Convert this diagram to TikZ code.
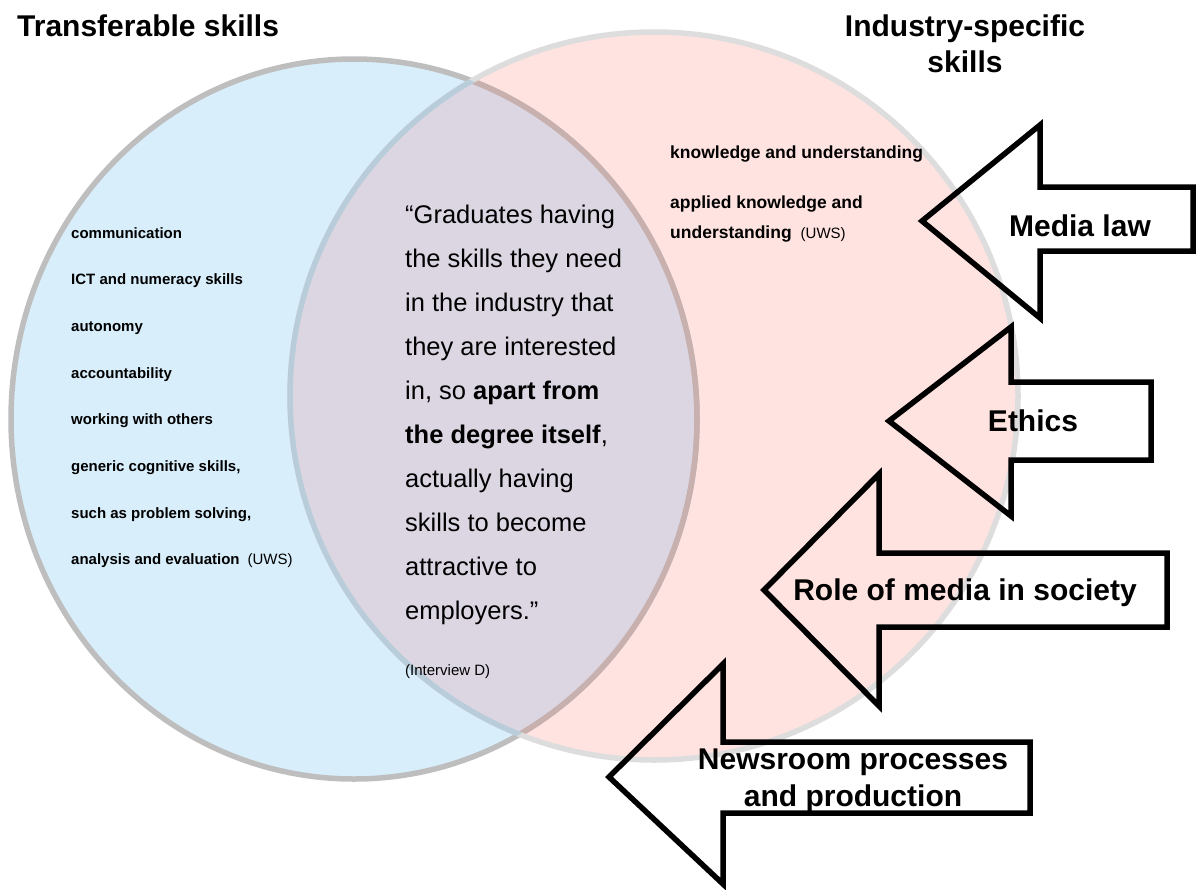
\documentclass[tikz,border=0pt]{standalone}
\usepackage{fontspec}
\setmainfont{Liberation Sans}
\definecolor{tsfill}{HTML}{D8EEFB}
\definecolor{isfill}{HTML}{FFE3E0}
\definecolor{bothfill}{HTML}{DCD6E3}
\definecolor{tsline}{HTML}{BEBEBE}
\definecolor{tslinein}{HTML}{C8B0AF}
\definecolor{isline}{HTML}{DDDDDD}
\definecolor{islinein}{HTML}{B9CCD9}
\begin{document}
\begin{tikzpicture}[x=1pt,y=-1pt,
  heading/.style={font=\fontsize{30}{36}\selectfont\bfseries, inner sep=0pt},
  skill/.style={font=\fontsize{15}{18}\selectfont\bfseries, anchor=base west, inner sep=0pt},
  iskill/.style={font=\fontsize{17.5}{21}\selectfont\bfseries, anchor=base west, inner sep=0pt},
  src/.style={font=\fontsize{15}{18}\selectfont},
  quote/.style={font=\fontsize{25.5}{30}\selectfont, anchor=base west, inner sep=0pt},
  arrowshape/.style={draw=black, line width=5.5pt, line join=miter, miter limit=10},
  arrowlabel/.style={font=\fontsize{30}{37}\selectfont\bfseries, anchor=base, inner sep=0pt, align=center}]
\useasboundingbox (0,0) rectangle (1196,889);

% the two skill sets
\fill[tsfill] (354,419) ellipse [x radius=343, y radius=360];
\fill[isfill] (654,396) circle [radius=364];
\begin{scope}
  \clip (354,419) ellipse [x radius=343, y radius=360];
  \fill[bothfill] (654,396) circle [radius=364];
\end{scope}
% outlines, tinted where they cross the other set
\draw[tsline, line width=5.5pt] (354,419) ellipse [x radius=343, y radius=360];
\begin{scope}
  \clip (654,396) circle [radius=364];
  \draw[tslinein, line width=5.5pt] (354,419) ellipse [x radius=343, y radius=360];
\end{scope}
\draw[isline, line width=5.5pt] (654,396) circle [radius=364];
\begin{scope}
  \clip (354,419) ellipse [x radius=343, y radius=360];
  \draw[islinein, line width=5.5pt] (654,396) circle [radius=364];
\end{scope}

% headings
\node[heading, anchor=base west] (tshead) at (17,36) {Transferable skills};
\node[heading, anchor=base] (ishead1) at (965,36) {Industry-specific};
\node[heading, anchor=base] (ishead2) at (965,72) {skills};

% transferable skills
\node[skill] (t1) at (71,238) {communication};
\node[skill] (t2) at (71,284.7) {ICT and numeracy skills};
\node[skill] (t3) at (71,331.4) {autonomy};
\node[skill] (t4) at (71,378.1) {accountability};
\node[skill] (t5) at (71,424.8) {working with others};
\node[skill] (t6) at (71,471.5) {generic cognitive skills,};
\node[skill] (t7) at (71,518.2) {such as problem solving,};
\node[skill] (t8) at (71,564.9) {analysis and evaluation\hspace{8pt}{\mdseries(UWS)}};

% industry-specific skills
\node[iskill] (i1) at (670,158) {knowledge and understanding};
\node[iskill] (i2) at (670,208) {applied knowledge and};
\node[iskill] (i3) at (670,238.5) {understanding\hspace{9pt}{\mdseries\fontsize{15}{18}\selectfont(UWS)}};

% shared: interview quote
\foreach \txt [count=\i from 0] in {%
  {“Graduates having},
  {the skills they need},
  {in the industry that},
  {they are interested},
  {in, so \textbf{apart from}},
  {\textbf{the degree itself},},
  {actually having},
  {skills to become},
  {attractive to},
  {employers.”}}
  \node[quote] (q\i) at (405,{223+44*\i}) {\txt};
\node[src, anchor=base west, inner sep=0pt] (qsrc) at (405,675) {(Interview D)};

% inputs feeding industry-specific skills
\draw[arrowshape] (922,221) -- (1040,125) -- (1040,187) -- (1193,187) -- (1193,251)
  -- (1040,251) -- (1040,318) -- cycle;
\draw[arrowshape] (889,421) -- (1011,327) -- (1011,382) -- (1151,382) -- (1151,460)
  -- (1011,460) -- (1011,516) -- cycle;
\draw[arrowshape] (764,590) -- (879,474) -- (879,553) -- (1167,553) -- (1167,627)
  -- (879,627) -- (879,706) -- cycle;
\draw[arrowshape] (609,777) -- (723,664) -- (723,742) -- (1030,742) -- (1030,813)
  -- (723,813) -- (723,884) -- cycle;

\node[arrowlabel] (law) at (1080,236) {Media law};
\node[arrowlabel] (ethics) at (1033,431) {Ethics};
\node[arrowlabel] (role) at (965,600) {Role of media in society};
\node[arrowlabel] (news1) at (853,769) {Newsroom processes};
\node[arrowlabel] (news2) at (853,806) {and production};
\end{tikzpicture}
\end{document}
